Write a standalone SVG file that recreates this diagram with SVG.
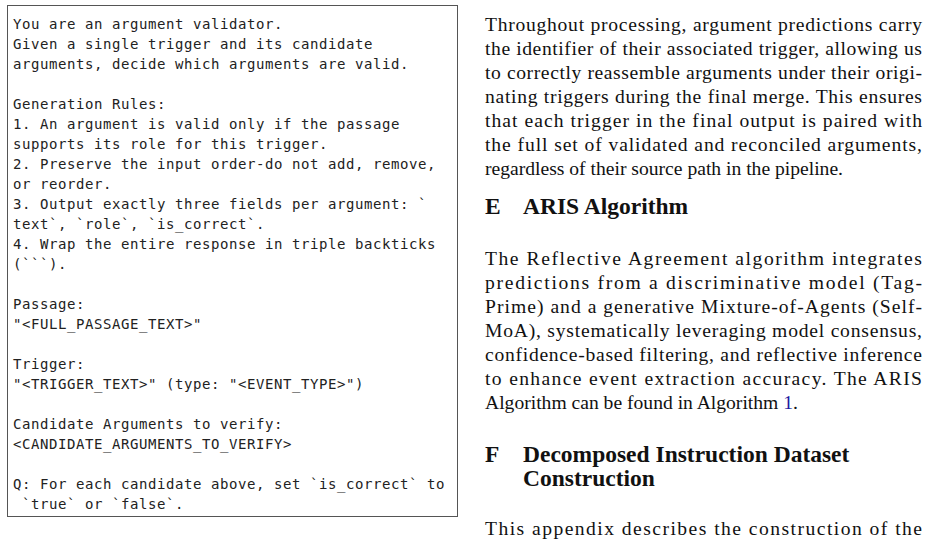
<svg xmlns="http://www.w3.org/2000/svg" width="930" height="553" viewBox="0 0 930 553">
<style>
.m{font-family:"DejaVu Sans Mono",monospace;font-size:14px;letter-spacing:0.57px;fill:#222}
.s{font-family:"Liberation Serif",serif;font-size:19.6px;fill:#111}
.h{font-family:"Liberation Serif",serif;font-size:23.5px;font-weight:bold;fill:#111}
</style>
<rect width="930" height="553" fill="#fff"/>
<rect x="7.5" y="5.5" width="450" height="511" fill="#fff" stroke="#555" stroke-width="1"/>
<g class="m">
<text x="13" y="29">You are an argument validator.</text>
<text x="13" y="49">Given a single trigger and its candidate</text>
<text x="13" y="69">arguments, decide which arguments are valid.</text>
<text x="13" y="109">Generation Rules:</text>
<text x="13" y="129">1. An argument is valid only if the passage</text>
<text x="13" y="149">supports its role for this trigger.</text>
<text x="13" y="169">2. Preserve the input order-do not add, remove,</text>
<text x="13" y="189">or reorder.</text>
<text x="13" y="209">3. Output exactly three fields per argument: `</text>
<text x="13" y="229">text`, `role`, `is_correct`.</text>
<text x="13" y="249">4. Wrap the entire response in triple backticks</text>
<text x="13" y="269">(```).</text>
<text x="13" y="309">Passage:</text>
<text x="13" y="329">"&lt;FULL_PASSAGE_TEXT&gt;"</text>
<text x="13" y="369">Trigger:</text>
<text x="13" y="389">"&lt;TRIGGER_TEXT&gt;" (type: "&lt;EVENT_TYPE&gt;")</text>
<text x="13" y="429">Candidate Arguments to verify:</text>
<text x="13" y="449">&lt;CANDIDATE_ARGUMENTS_TO_VERIFY&gt;</text>
<text x="13" y="489">Q: For each candidate above, set `is_correct` to</text>
<text x="22" y="509">`true` or `false`.</text>
</g>
<g class="s">
<text x="485" y="31" textLength="437" lengthAdjust="spacing">Throughout processing, argument predictions carry</text>
<text x="485" y="55" textLength="437" lengthAdjust="spacing">the identifier of their associated trigger, allowing us</text>
<text x="485" y="79" textLength="437" lengthAdjust="spacing">to correctly reassemble arguments under their origi-</text>
<text x="485" y="103" textLength="437" lengthAdjust="spacing">nating triggers during the final merge. This ensures</text>
<text x="485" y="127" textLength="437" lengthAdjust="spacing">that each trigger in the final output is paired with</text>
<text x="485" y="151" textLength="437" lengthAdjust="spacing">the full set of validated and reconciled arguments,</text>
<text x="485" y="175">regardless of their source path in the pipeline.</text>
<text x="485" y="265" textLength="437" lengthAdjust="spacing">The Reflective Agreement algorithm integrates</text>
<text x="485" y="289" textLength="437" lengthAdjust="spacing">predictions from a discriminative model (Tag-</text>
<text x="485" y="313" textLength="437" lengthAdjust="spacing">Prime) and a generative Mixture-of-Agents (Self-</text>
<text x="485" y="337" textLength="437" lengthAdjust="spacing">MoA), systematically leveraging model consensus,</text>
<text x="485" y="361" textLength="437" lengthAdjust="spacing">confidence-based filtering, and reflective inference</text>
<text x="485" y="385" textLength="437" lengthAdjust="spacing">to enhance event extraction accuracy. The ARIS</text>
<text x="485" y="409">Algorithm can be found in Algorithm <tspan fill="#1a1aa0">1</tspan>.</text>
<text x="485" y="535" textLength="437" lengthAdjust="spacing">This appendix describes the construction of the</text>
</g>
<g class="h">
<text x="485" y="214">E</text><text x="523" y="214">ARIS Algorithm</text>
<text x="485" y="462">F</text><text x="523" y="462">Decomposed Instruction Dataset</text>
<text x="523" y="486">Construction</text>
</g>
</svg>
